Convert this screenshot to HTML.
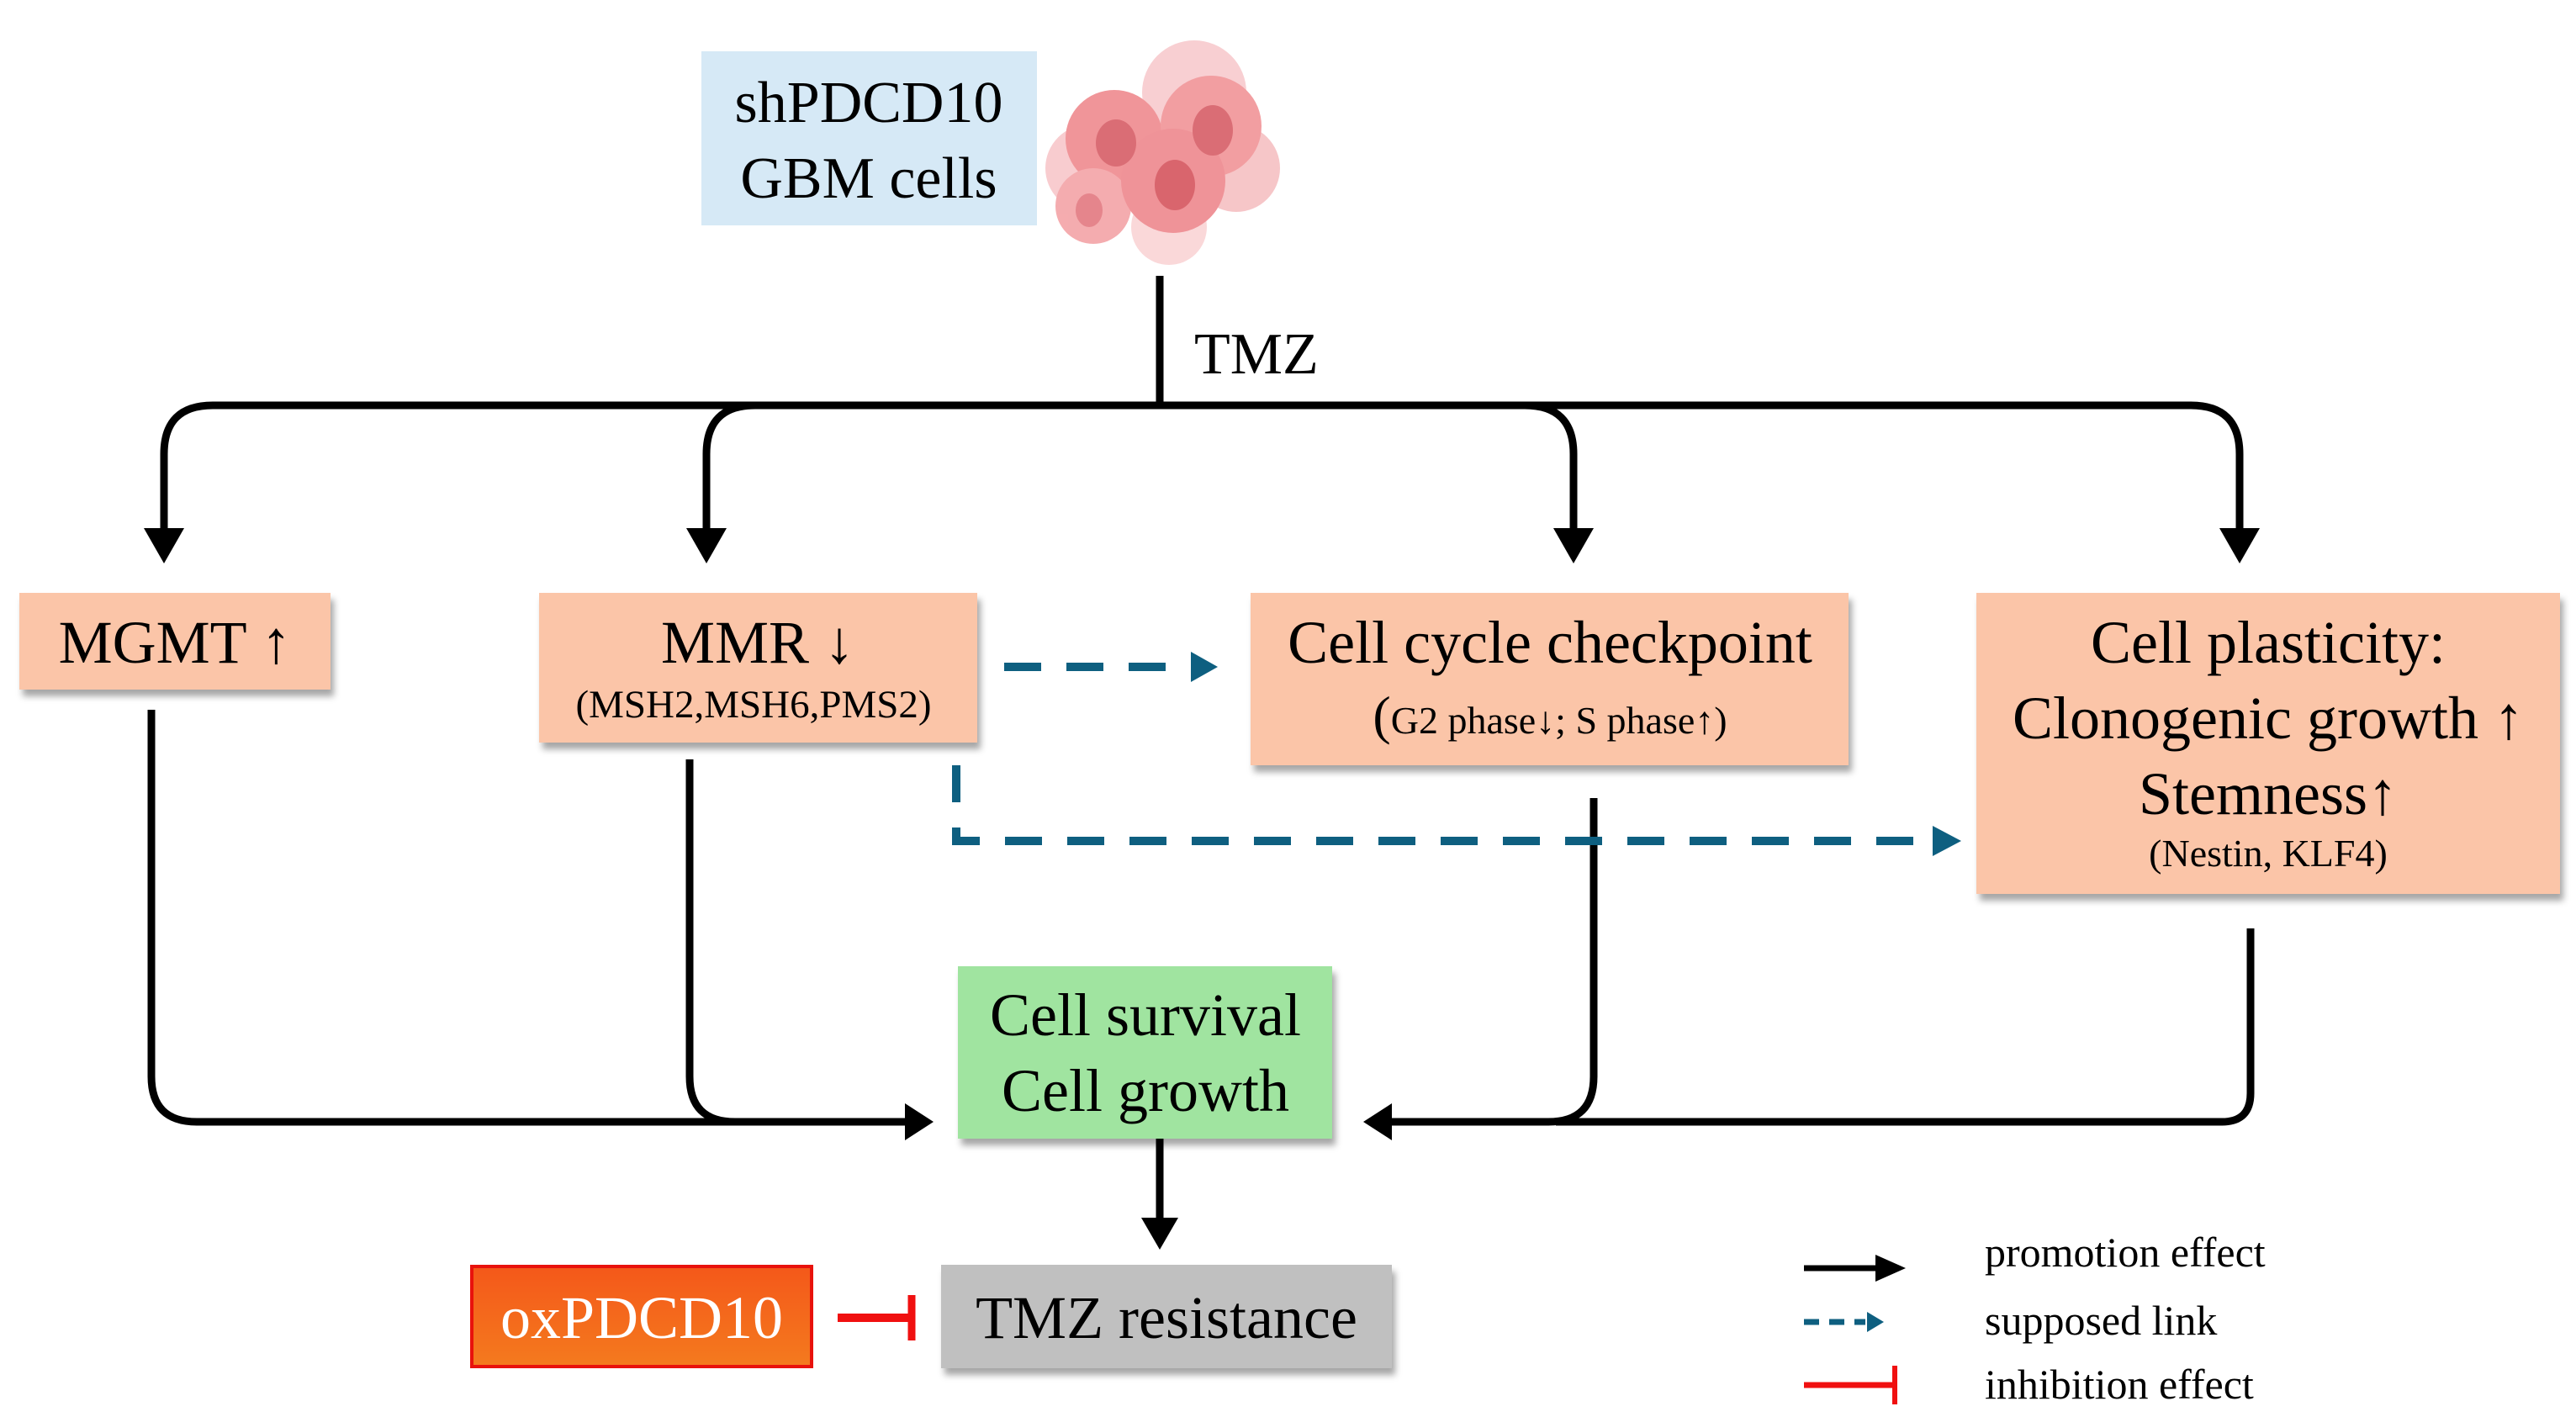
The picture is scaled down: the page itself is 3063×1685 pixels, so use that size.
<!DOCTYPE html>
<html><head><meta charset="utf-8"><style>
html,body{margin:0;padding:0;background:#fff}
svg{display:block}
text{font-family:"Liberation Serif",serif;fill:#000}
</style></head><body>
<svg width="3063" height="1685" viewBox="0 0 3063 1685" xmlns="http://www.w3.org/2000/svg">
<defs>
<filter id="sh" x="-5%" y="-5%" width="115%" height="125%"><feDropShadow dx="4" dy="8" stdDeviation="4" flood-color="#000" flood-opacity="0.35"/></filter>
<linearGradient id="og" x1="0" y1="0" x2="0" y2="1"><stop offset="0" stop-color="#f4581a"/><stop offset="1" stop-color="#f47a1e"/></linearGradient>
</defs>

<rect x="834" y="61" width="399" height="207" fill="#d6e9f6"/>
<text x="1033" y="145" font-size="70" text-anchor="middle">shPDCD10</text>
<text x="1033" y="235" font-size="70" text-anchor="middle">GBM cells</text>

<g opacity="0.95">
<circle cx="1420" cy="110" r="62" fill="#f8cdd0"/>
<circle cx="1470" cy="200" r="52" fill="#f6c3c6"/>
<circle cx="1295" cy="200" r="52" fill="#f8cacd"/>
<circle cx="1390" cy="270" r="45" fill="#fad6d8"/>
<circle cx="1325" cy="165" r="58" fill="#f09094"/>
<circle cx="1440" cy="150" r="60" fill="#f2999d"/>
<circle cx="1300" cy="245" r="45" fill="#f4a8ab"/>
<circle cx="1395" cy="215" r="62" fill="#ef8e93"/>
<ellipse cx="1327" cy="170" rx="24" ry="28" fill="#d9666e"/>
<ellipse cx="1442" cy="155" rx="24" ry="30" fill="#d9666e"/>
<ellipse cx="1397" cy="220" rx="24" ry="30" fill="#d75d66"/>
<ellipse cx="1295" cy="250" rx="16" ry="20" fill="#e47f86"/>
</g>

<g fill="none" stroke="#000" stroke-width="9">
<line x1="1379" y1="328" x2="1379" y2="482"/>
<path d="M195 628 V540 Q195 482 253 482 H2605 Q2663 482 2663 540 V628"/>
<path d="M840 628 V540 Q840 482 898 482"/>
<path d="M1813 482 Q1871 482 1871 540 V628"/>
<path d="M180 844 V1280 Q180 1334 234 1334 H1080"/>
<path d="M820 903 V1280 Q820 1334 874 1334"/>
<path d="M1895 949 V1280 Q1895 1334 1841 1334 H1650"/>
<path d="M2676 1104 V1300 Q2676 1334 2642 1334 H1850"/>
<line x1="1379" y1="1354" x2="1379" y2="1450"/>
<line x1="2145" y1="1508" x2="2232" y2="1508" stroke-width="7"/>
</g>
<g fill="#000">
<polygon points="171,628 219,628 195,670"/>
<polygon points="816,628 864,628 840,670"/>
<polygon points="1847,628 1895,628 1871,670"/>
<polygon points="2639,628 2687,628 2663,670"/>
<polygon points="1076,1312 1076,1356 1110,1334"/>
<polygon points="1655,1312 1655,1356 1621,1334"/>
<polygon points="1357,1448 1401,1448 1379,1486"/>
<polygon points="2230,1492 2230,1524 2266,1508"/>
</g>

<g fill="none" stroke="#0e5f80" stroke-width="10" stroke-dasharray="44,30">
<line x1="1194" y1="793" x2="1420" y2="793"/>
<path d="M1137 910 V1000 H2300"/>
<line x1="2145" y1="1572" x2="2218" y2="1572" stroke-width="7" stroke-dasharray="18,12"/>
</g>
<g fill="#0e5f80">
<polygon points="1416,775 1416,811 1448,793"/>
<polygon points="2298,982 2298,1018 2332,1000"/>
<polygon points="2220,1560 2220,1584 2240,1572"/>
</g>

<g filter="url(#sh)" fill="#fbc5a8">
<rect x="23" y="705" width="370" height="115"/>
<rect x="641" y="705" width="521" height="178"/>
<rect x="1487" y="705" width="711" height="205"/>
<rect x="2350" y="705" width="694" height="358"/>
<rect x="1139" y="1149" width="445" height="205" fill="#a0e4a0"/>
<rect x="1119" y="1504" width="536" height="123" fill="#c0c0c0"/>
</g>
<rect x="561" y="1506" width="404" height="119" fill="url(#og)" stroke="#e8120c" stroke-width="4"/>

<text x="208" y="788" font-size="72" text-anchor="middle">MGMT ↑</text>
<text x="901" y="788" font-size="72" text-anchor="middle">MMR ↓</text>
<text x="896" y="853" font-size="47" text-anchor="middle">(MSH2,MSH6,PMS2)</text>
<text x="1843" y="788" font-size="72" text-anchor="middle">Cell cycle checkpoint</text>
<text x="1843" y="872" font-size="46" text-anchor="middle"><tspan font-size="64">(</tspan>G2 phase↓; S phase↑)</text>
<text x="2697" y="788" font-size="72" text-anchor="middle">Cell plasticity:</text>
<text x="2697" y="878" font-size="72" text-anchor="middle">Clonogenic growth ↑</text>
<text x="2697" y="968" font-size="72" text-anchor="middle">Stemness↑</text>
<text x="2697" y="1030" font-size="46" text-anchor="middle">(Nestin, KLF4)</text>
<text x="1362" y="1231" font-size="72" text-anchor="middle">Cell survival</text>
<text x="1362" y="1321" font-size="72" text-anchor="middle">Cell growth</text>
<text x="1387" y="1591" font-size="72" text-anchor="middle">TMZ resistance</text>
<text x="763" y="1591" font-size="72" text-anchor="middle" style="fill:#fff">oxPDCD10</text>
<text x="1420" y="444" font-size="70">TMZ</text>

<line x1="996" y1="1567" x2="1082" y2="1567" stroke="#f01010" stroke-width="10"/>
<line x1="1084" y1="1540" x2="1084" y2="1594" stroke="#f01010" stroke-width="9"/>
<line x1="2145" y1="1647" x2="2250" y2="1647" stroke="#f01010" stroke-width="7"/>
<line x1="2253" y1="1624" x2="2253" y2="1670" stroke="#f01010" stroke-width="6"/>

<text x="2360" y="1506" font-size="50">promotion effect</text>
<text x="2360" y="1587" font-size="50">supposed link</text>
<text x="2360" y="1663" font-size="50">inhibition effect</text>
</svg>
</body></html>
